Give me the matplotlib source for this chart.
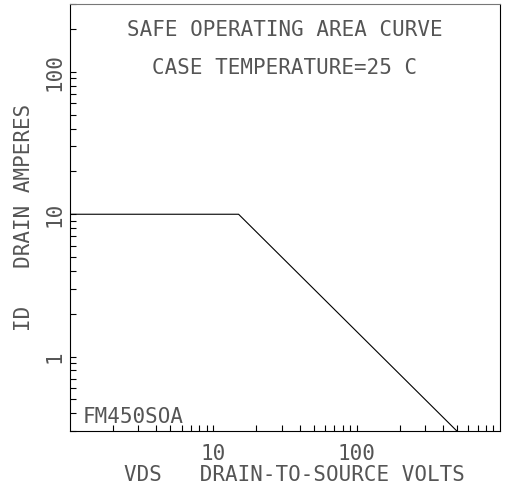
import matplotlib
matplotlib.use("Agg")
import matplotlib.pyplot as plt
from matplotlib.ticker import LogLocator, NullFormatter, FixedLocator, FixedFormatter

# safe operating area boundary (volts, amperes)
vds = [1, 15, 500]
id_amps = [10, 10, 0.3]

x_ticks = [10, 100]
x_tick_labels = ["10", "100"]
y_ticks = [1, 10, 100]
y_tick_labels = ["1", "10", "100"]

title_lines = ["SAFE OPERATING AREA CURVE", "CASE TEMPERATURE=25 C"]
part_label = "FM450SOA"

# plotter-style lettering is fixed pitch, so use a mono face
plt.rcParams["font.family"] = ["DejaVu Sans Mono"]
txt = "#555555"
fs = 15

fig = plt.figure(figsize=(5.05, 4.91), dpi=100)
ax = fig.add_axes([70 / 505, 1 - 431 / 491, 430 / 505, 427 / 491])

ax.plot(vds, id_amps, color="black", linewidth=0.8)

ax.set_xscale("log")
ax.set_yscale("log")
ax.set_xlim(1, 1000)
ax.set_ylim(0.3, 300)

ax.xaxis.set_major_locator(FixedLocator(x_ticks))
ax.xaxis.set_major_formatter(FixedFormatter(x_tick_labels))
ax.yaxis.set_major_locator(FixedLocator(y_ticks))
ax.yaxis.set_major_formatter(FixedFormatter(y_tick_labels))
for axis in (ax.xaxis, ax.yaxis):
    axis.set_minor_locator(LogLocator(base=10, subs=range(2, 10)))
    axis.set_minor_formatter(NullFormatter())

ax.tick_params(which="both", direction="in", length=4, width=0.8, color="black",
               top=False, right=False)
ax.tick_params(axis="x", which="major", labelsize=fs, labelcolor=txt, pad=9)
ax.tick_params(axis="y", which="major", labelsize=fs, labelcolor=txt, pad=4,
               labelrotation=90)
for lbl in ax.get_yticklabels():
    lbl.set_va("center")

for sp in ax.spines.values():
    sp.set_linewidth(0.8)
ax.spines["top"].set_color("#777777")

ax.set_xlabel("VDS   DRAIN-TO-SOURCE VOLTS", fontsize=fs, color=txt, va="center")
ax.xaxis.set_label_coords(0.521, -0.103)
ax.set_ylabel("ID   DRAIN AMPERES", fontsize=fs, color=txt, va="center")
ax.yaxis.set_label_coords(-0.108, 0.5)

ax.text(0.5, 0.939, title_lines[0], transform=ax.transAxes, ha="center", va="center",
        fontsize=fs, color=txt)
ax.text(0.5, 0.850, title_lines[1], transform=ax.transAxes, ha="center", va="center",
        fontsize=fs, color=txt)
ax.text(0.03, 0.033, part_label, transform=ax.transAxes, ha="left", va="center",
        fontsize=fs, color=txt)

fig.savefig("out.png", dpi=100)
